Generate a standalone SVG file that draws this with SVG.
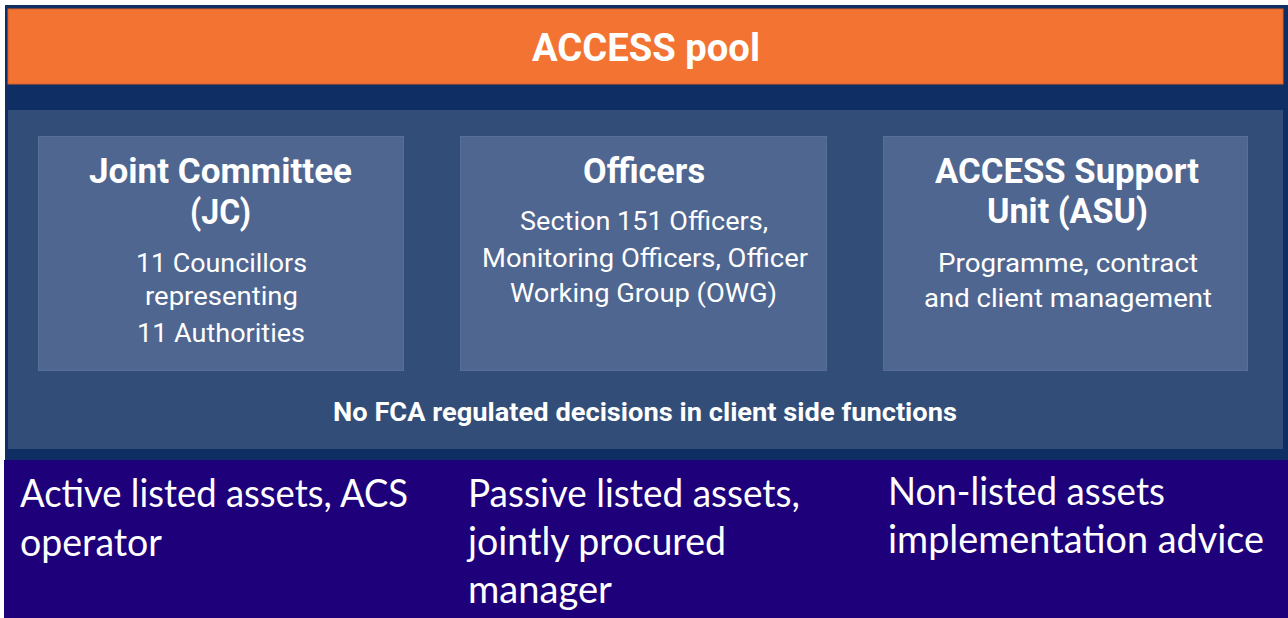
<svg xmlns="http://www.w3.org/2000/svg" width="1288" height="618" viewBox="0 0 1288 618">
<style>
.t{font-family:Roboto,"Liberation Sans",sans-serif;fill:#ffffff}
.h{font-weight:700;font-size:35px}
.b{font-weight:400;font-size:25px}
.c{font-family:Lato,"Open Sans","Liberation Sans",sans-serif;font-size:38px;fill:#ffffff}
.box{fill:#4F6690;stroke:#56709a;stroke-width:1}
</style>
<rect x="0" y="0" width="1288" height="618" fill="#ffffff"/>
<rect x="5" y="5" width="1283" height="455" fill="#0F2E63"/>
<g id="header">
<rect x="8" y="9" width="1275" height="75" fill="#F37432" stroke="#d9612a" stroke-width="1"/>
<text class="t" x="532" y="61" font-weight="700" font-size="38" textLength="228" lengthAdjust="spacingAndGlyphs">ACCESS pool</text>
</g>
<g id="client-side">
<rect x="8" y="110" width="1275" height="339" fill="#324E78"/>
<text class="t" x="333" y="421" font-weight="700" font-size="25" textLength="624" lengthAdjust="spacingAndGlyphs">No FCA regulated decisions in client side functions</text>
</g>
<g id="joint-committee">
<rect class="box" x="38.5" y="136.5" width="365" height="234"/>
<text class="t h" x="89" y="183" textLength="263" lengthAdjust="spacingAndGlyphs">Joint Committee</text>
<text class="t h" x="190" y="224" textLength="61" lengthAdjust="spacingAndGlyphs">(JC)</text>
<text class="t b" x="136" y="272" textLength="171" lengthAdjust="spacingAndGlyphs">11 Councillors</text>
<text class="t b" x="145" y="305" textLength="153" lengthAdjust="spacingAndGlyphs">representing</text>
<text class="t b" x="137" y="342" textLength="168" lengthAdjust="spacingAndGlyphs">11 Authorities</text>
</g>
<g id="officers">
<rect class="box" x="460.5" y="136.5" width="366" height="234"/>
<text class="t h" x="583" y="183" textLength="122" lengthAdjust="spacingAndGlyphs">Officers</text>
<text class="t b" x="520" y="230" textLength="248" lengthAdjust="spacingAndGlyphs">Section 151 Officers,</text>
<text class="t b" x="482" y="267" textLength="326" lengthAdjust="spacingAndGlyphs">Monitoring Officers, Officer</text>
<text class="t b" x="510" y="302" textLength="267" lengthAdjust="spacingAndGlyphs">Working Group (OWG)</text>
</g>
<g id="asu">
<rect class="box" x="883.5" y="136.5" width="364" height="234"/>
<text class="t h" x="935" y="183" textLength="264" lengthAdjust="spacingAndGlyphs">ACCESS Support</text>
<text class="t h" x="987" y="223" textLength="161" lengthAdjust="spacingAndGlyphs">Unit (ASU)</text>
<text class="t b" x="938" y="272" textLength="260" lengthAdjust="spacingAndGlyphs">Programme, contract</text>
<text class="t b" x="924" y="307" textLength="288" lengthAdjust="spacingAndGlyphs">and client management</text>
</g>
<g id="asset-classes">
<rect x="4" y="460" width="1284" height="158" fill="#1E007B"/>
<g id="active">
<text class="c" x="20" y="507" textLength="388" lengthAdjust="spacingAndGlyphs">Active listed assets, ACS</text>
<text class="c" x="20" y="556" textLength="142" lengthAdjust="spacingAndGlyphs">operator</text>
</g>
<g id="passive">
<text class="c" x="468" y="507" textLength="332" lengthAdjust="spacingAndGlyphs">Passive listed assets,</text>
<text class="c" x="468" y="555" textLength="258" lengthAdjust="spacingAndGlyphs">jointly procured</text>
<text class="c" x="468" y="603" textLength="144" lengthAdjust="spacingAndGlyphs">manager</text>
</g>
<g id="non-listed">
<text class="c" x="888" y="505" textLength="277" lengthAdjust="spacingAndGlyphs">Non-listed assets</text>
<text class="c" x="888" y="553" textLength="376" lengthAdjust="spacingAndGlyphs">implementation advice</text>
</g>
</g>
<g id="connectors"/>
</svg>
